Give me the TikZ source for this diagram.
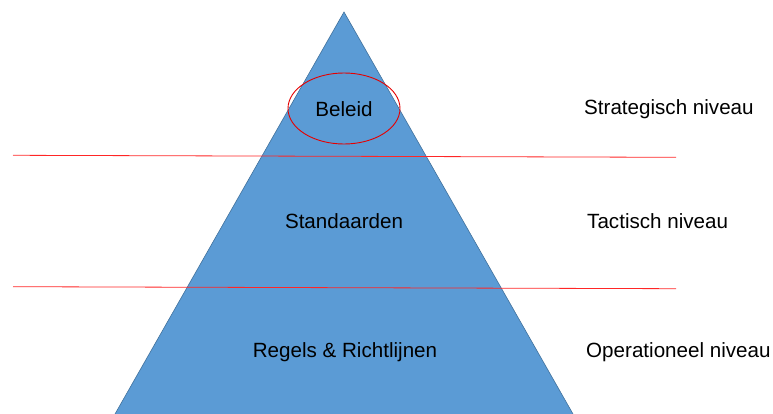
\documentclass[tikz,border=0pt]{standalone}
\usepackage{fontspec}
\setmainfont{Liberation Sans}
\usetikzlibrary{shapes.geometric}
\definecolor{pyr}{HTML}{5B9BD5}
\definecolor{pyredge}{HTML}{41719C}
\begin{document}
\begin{tikzpicture}[x=1pt,y=-1pt,
  lbl/.style={font=\fontsize{20.6}{24}\selectfont, inner sep=0pt},
  rlbl/.style={lbl, anchor=west},
  sep/.style={draw=red!85!white, line width=0.8pt}]
\useasboundingbox (0,0) rectangle (773,414);
\coordinate (apex) at (344,12);
\coordinate (bl) at (115,414);
\coordinate (br) at (573,414);
\fill[pyr] (apex) -- (br) -- (bl) -- cycle;
\draw[pyredge, line width=0.6pt] (bl) -- (apex) -- (br);
\coordinate (s1l) at (13,155.3);
\coordinate (s1r) at (676,157.3);
\coordinate (s2l) at (13,286.7);
\coordinate (s2r) at (676,288.7);
\draw[sep] (s1l) -- (s1r);
\draw[sep] (s2l) -- (s2r);
\node[draw=red!90!black, line width=0.9pt, ellipse, minimum width=112pt, minimum height=71pt, inner sep=0pt] (ell) at (344,108.5) {};
\node[lbl] (beleid) at (344,109) {Beleid};
\node[lbl] (std) at (344,221) {Standaarden};
\node[lbl] (regels) at (345,352) {Regels \& Richtlijnen};
\node[rlbl] (strat) at (584,109) {Strategisch niveau};
\node[rlbl] (tact) at (587,221) {Tactisch niveau};
\node[rlbl] (oper) at (586,352) {Operationeel niveau};
\end{tikzpicture}
\end{document}
